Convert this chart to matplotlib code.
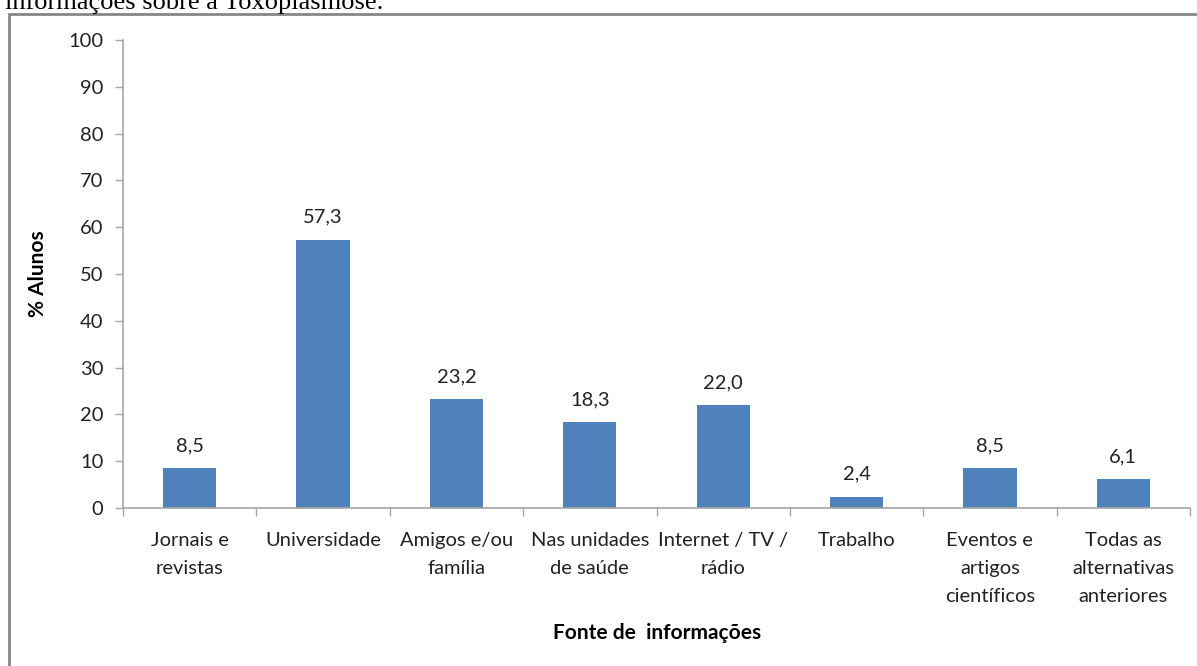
import matplotlib
matplotlib.use("Agg")
import matplotlib.pyplot as plt
from matplotlib.patches import Rectangle

categories = ["Jornais e\nrevistas", "Universidade", "Amigos e/ou\nfamília",
              "Nas unidades\nde saúde", "Internet / TV /\nrádio", "Trabalho",
              "Eventos e\nartigos\ncientíficos", "Todas as\nalternativas\nanteriores"]
values = [8.5, 57.3, 23.2, 18.3, 22.0, 2.4, 8.5, 6.1]
value_labels = ["8,5", "57,3", "23,2", "18,3", "22,0", "2,4", "8,5", "6,1"]
yticks = [0, 10, 20, 30, 40, 50, 60, 70, 80, 90, 100]

W, H = 1197, 666
fig = plt.figure(figsize=(W / 100, H / 100), dpi=100)
font = ["Lato", "DejaVu Sans"]
plt.rcParams['font.family'] = font
FS = 14.5

# frame border
fig.add_artist(Rectangle((9 / W, -0.1), 1.2, 1 - 14 / H + 0.1, transform=fig.transFigure,
                         fill=False, edgecolor="#868686", linewidth=2))
fig.text(5 / W, 1 - 9 / H, "informações sobre a Toxoplasmose.", family="Liberation Serif",
         fontsize=19, va="baseline", ha="left", color="black")

ax = fig.add_axes([123 / W, 1 - 508 / H, (1190 - 123) / W, (508 - 40) / H])
x = list(range(len(categories)))
ax.bar(x, values, width=0.4, color="#4F81BD", zorder=2)
for xi, v, lab in zip(x, values, value_labels):
    ax.text(xi, v + 3.0, lab, ha="center", va="bottom", fontsize=FS, color="#222222")

ax.set_xlim(-0.5, len(categories) - 0.5)
ax.set_ylim(0, 100)
ax.set_yticks(yticks)
ax.set_yticklabels([str(t) for t in yticks], fontsize=FS, color="#222222")
ax.set_xticks(x)
ax.set_xticklabels(categories, fontsize=FS, color="#222222", linespacing=1.8)
ax.set_xticks([i - 0.5 for i in range(len(categories) + 1)], minor=True)
ax.tick_params(axis="x", which="major", length=0, pad=17)
ax.tick_params(axis="x", which="minor", length=6, color="#A6A6A6", width=1)
ax.tick_params(axis="y", length=6, color="#A6A6A6", width=1, pad=8)

for s in ["top", "right"]:
    ax.spines[s].set_visible(False)
for s in ["left", "bottom"]:
    ax.spines[s].set_color("#A6A6A6")
    ax.spines[s].set_linewidth(1.2)

ax.set_ylabel("% Alunos", fontsize=15, fontweight="bold")
ax.yaxis.set_label_coords(-75 / (1190 - 123), 0.5)
fig.text(657 / W, 1 - 633 / H, "Fonte de  informações", fontsize=15, fontweight="bold",
         ha="center", va="center")

fig.savefig("out.png", dpi=100)
